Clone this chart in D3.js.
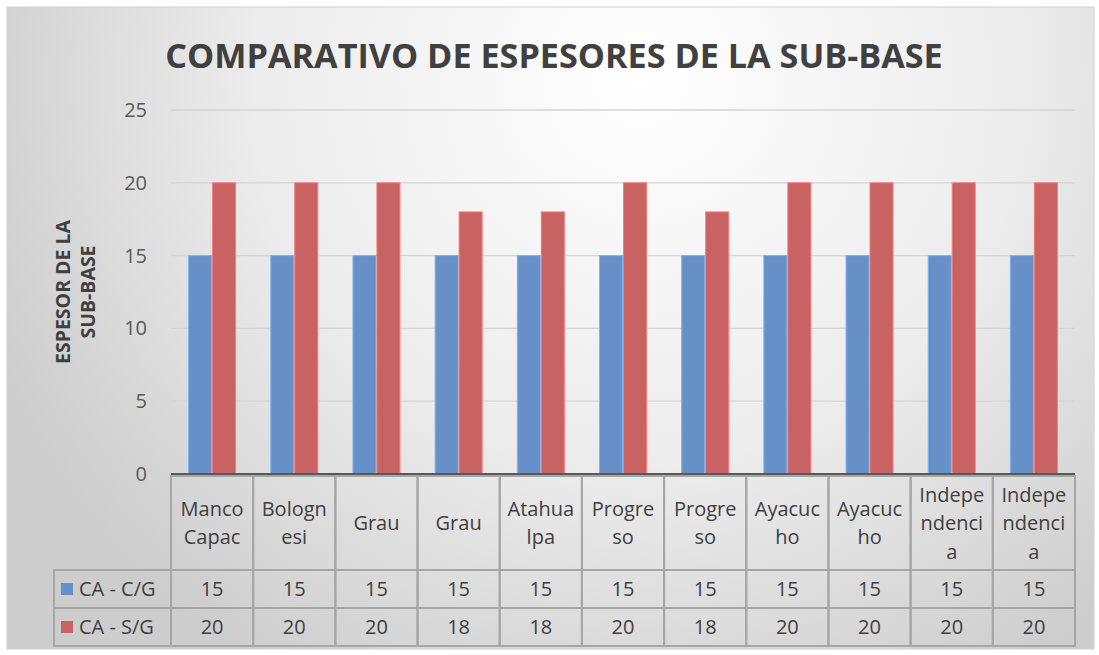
<!DOCTYPE html>
<meta charset="utf-8">
<style>
body { margin: 0; background: #fff; }
text { font-family: "Open Sans", "Noto Sans", sans-serif; }
.tick text { fill: #595959; font-size: 20px; }
.grid line { stroke: #d4d4d4; stroke-width: 1.3; }
.cell { fill: none; stroke: #a6a6a6; stroke-width: 2; }
.tbl-text { fill: #404040; font-size: 20px; }
</style>
<svg width="1099" height="655"></svg>
<script src="https://d3js.org/d3.v7.min.js"></script>
<script>

var categories = ["Manco Capac", "Bolognesi", "Grau", "Grau", "Atahualpa", "Progreso",
                  "Progreso", "Ayacucho", "Ayacucho", "Independencia", "Independencia"];
// how the category names break inside their cells
var catLines = [["Manco", "Capac"], ["Bologn", "esi"], ["Grau"], ["Grau"], ["Atahua", "lpa"],
                ["Progre", "so"], ["Progre", "so"], ["Ayacuc", "ho"], ["Ayacuc", "ho"],
                ["Indepe", "ndenci", "a"], ["Indepe", "ndenci", "a"]];
var seriesNames = ["CA - C/G", "CA - S/G"];
var conGeo = [15, 15, 15, 15, 15, 15, 15, 15, 15, 15, 15];
var sinGeo = [20, 20, 20, 18, 18, 20, 18, 20, 20, 20, 20];
var yTicks = [0, 5, 10, 15, 20, 25];
var colors = ["#6690c7", "#c96262"];

var svg = d3.select("svg");

// background
var defs = svg.append("defs");
var rg = defs.append("radialGradient").attr("id", "bg")
    .attr("gradientUnits", "userSpaceOnUse")
    .attr("cx", 640).attr("cy", 80).attr("r", 700);
rg.append("stop").attr("offset", "0").attr("stop-color", "#ffffff");
rg.append("stop").attr("offset", "0.55").attr("stop-color", "#ececec");
rg.append("stop").attr("offset", "1").attr("stop-color", "#cdcdcd");

svg.append("rect")
    .attr("x", 7).attr("y", 7).attr("width", 1087).attr("height", 642)
    .attr("fill", "url(#bg)").attr("stroke", "#d0d0d0");

var plotL = 171, plotR = 1075, plotT = 110, plotB = 474;

var x = d3.scaleBand().domain(d3.range(categories.length)).range([plotL, plotR]);
var x1 = d3.scaleBand().domain([0, 1]).range([0, 47]).paddingInner(0.04);
var y = d3.scaleLinear().domain([0, 25]).range([plotB, plotT]);

// title
var title = svg.append("text")
    .attr("x", 554).attr("y", 68)
    .attr("text-anchor", "middle")
    .attr("font-weight", "bold")
    .attr("font-size", 34)
    .attr("fill", "#404040")
    .text("COMPARATIVO DE ESPESORES DE LA SUB-BASE");
var tw = title.node().getComputedTextLength();
title.attr("font-size", 34 * 778 / tw);

// gridlines
svg.append("g").attr("class", "grid")
  .selectAll("line").data(yTicks.slice(1)).enter().append("line")
    .attr("x1", plotL).attr("x2", plotR)
    .attr("y1", function(d) { return y(d); })
    .attr("y2", function(d) { return y(d); });

// y axis
var yAxis = svg.append("g")
    .attr("transform", "translate(" + plotL + ",0)")
    .call(d3.axisLeft(y).tickValues(yTicks).tickSize(0).tickPadding(24));
yAxis.select(".domain").remove();

// y title
svg.append("text")
    .attr("transform", "translate(74,292) rotate(-90)")
    .attr("text-anchor", "middle")
    .attr("font-weight", "bold")
    .attr("font-size", 19.5)
    .attr("fill", "#404040")
  .selectAll("tspan").data(["ESPESOR DE LA", "SUB-BASE"]).enter().append("tspan")
    .attr("x", 0)
    .attr("dy", function(d, i) { return i === 0 ? "-0.2em" : "1.3em"; })
    .text(function(d) { return d; });

// bars
var series = [conGeo, sinGeo];
series.forEach(function(vals, s) {
  svg.append("g")
    .selectAll("rect").data(vals).enter().append("rect")
      .attr("x", function(d, i) { return x(i) + (x.bandwidth() - 47) / 2 + x1(s); })
      .attr("y", function(d) { return y(d); })
      .attr("width", x1.bandwidth())
      .attr("height", function(d) { return y(0) - y(d); })
      .attr("fill", colors[s])
      .attr("stroke", d3.color(colors[s]).brighter(0.6))
      .attr("stroke-width", 1);
});

// data table
var rowTop = [476, 570, 608], rowBot = [570, 608, 646];
var legLeft = 54;
var tbl = svg.append("g");

// header cells
categories.forEach(function(c, i) {
  tbl.append("rect").attr("class", "cell")
      .attr("x", x(i)).attr("y", rowTop[0])
      .attr("width", x.bandwidth()).attr("height", rowBot[0] - rowTop[0]);
  var lines = catLines[i];
  var cy = (rowTop[0] + rowBot[0]) / 2, lh = 28.5;
  lines.forEach(function(line, k) {
    tbl.append("text").attr("class", "tbl-text")
        .attr("text-anchor", "middle")
        .attr("x", x(i) + x.bandwidth() / 2)
        .attr("y", cy + (k - (lines.length - 1) / 2) * lh + 7)
        .text(line);
  });
});

// value rows
series.forEach(function(vals, s) {
  var mid = (rowTop[s + 1] + rowBot[s + 1]) / 2;
  tbl.append("rect").attr("class", "cell")
      .attr("x", legLeft).attr("y", rowTop[s + 1])
      .attr("width", plotL - legLeft).attr("height", rowBot[s + 1] - rowTop[s + 1]);
  tbl.append("rect")
      .attr("x", 61).attr("y", mid - 6)
      .attr("width", 12).attr("height", 12)
      .attr("fill", colors[s]);
  tbl.append("text").attr("class", "tbl-text")
      .attr("x", 79).attr("y", mid + 7)
      .text(seriesNames[s]);
  vals.forEach(function(v, i) {
    tbl.append("rect").attr("class", "cell")
        .attr("x", x(i)).attr("y", rowTop[s + 1])
        .attr("width", x.bandwidth()).attr("height", rowBot[s + 1] - rowTop[s + 1]);
    tbl.append("text").attr("class", "tbl-text")
        .attr("text-anchor", "middle")
        .attr("x", x(i) + x.bandwidth() / 2)
        .attr("y", mid + 7)
        .text(v);
  });
});

// zero axis line
svg.append("line")
    .attr("x1", plotL).attr("x2", plotR)
    .attr("y1", y(0)).attr("y2", y(0))
    .attr("stroke", "#595959").attr("stroke-width", 2);

</script>
